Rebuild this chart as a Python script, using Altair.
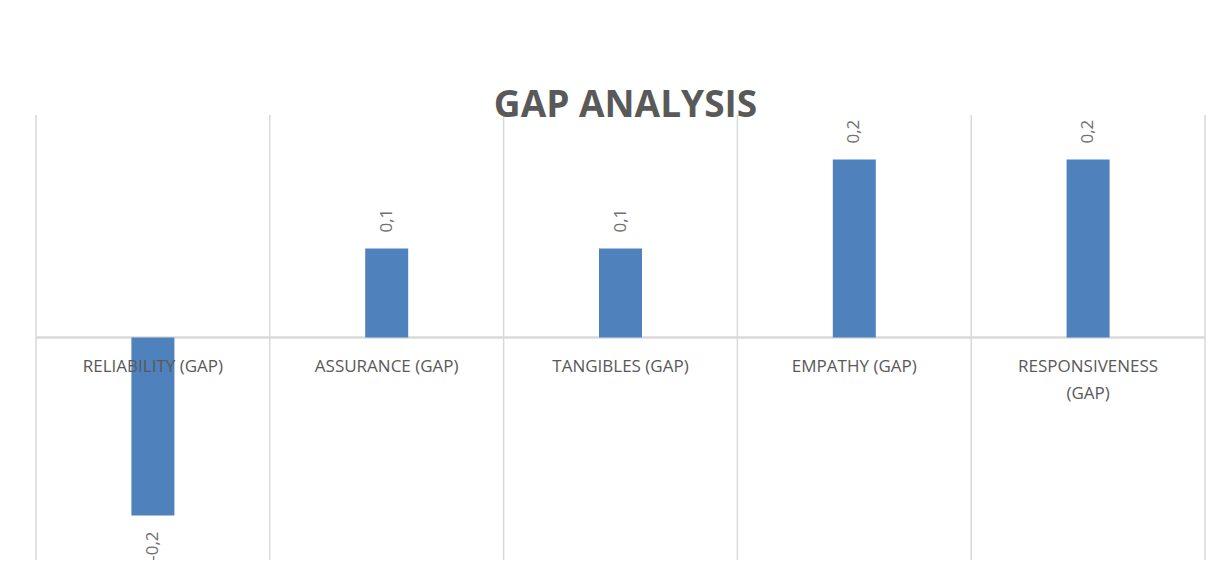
import altair as alt
import pandas as pd

categories = ["RELIABILITY (GAP)", "ASSURANCE (GAP)", "TANGIBLES (GAP)",
              "EMPATHY (GAP)", "RESPONSIVENESS (GAP)"]
values = [-0.2, 0.1, 0.1, 0.2, 0.2]
title_text = "GAP ANALYSIS"

df = pd.DataFrame({"category": categories, "value": values})

W, H = 1169, 445
GRID = "#D9D9D9"
TEXT = "#595959"
LABEL = "#707070"

x_scale = alt.Scale(domain=categories, paddingInner=0, paddingOuter=0)
x_enc = alt.X("category:N", scale=x_scale, axis=None)
y_scale = alt.Scale(domain=[-0.25, 0.25], nice=False)
y_enc = alt.Y("value:Q", scale=y_scale, axis=None)
zero_enc = alt.Y("zero:Q", scale=y_scale, axis=None)

base = alt.Chart(df)

grid = base.mark_rule(color=GRID, strokeWidth=1.5, xOffset=-W / 10).encode(x=x_enc)
grid_end = base.transform_filter(
    alt.datum.category == categories[-1]
).mark_rule(color=GRID, strokeWidth=1.5, xOffset=W / 10).encode(x=x_enc)

zero = base.transform_calculate(zero="0").mark_rule(
    color=GRID, strokeWidth=1.5
).encode(y=zero_enc)

bars = base.mark_bar(color="#4F81BD", size=43).encode(x=x_enc, y=y_enc)

cat_labels = base.transform_calculate(
    zero="0",
    lab="length(datum.category) > 18 ? replace(datum.category, ' (', '\\n(') : datum.category",
).mark_text(
    lineBreak="\n", font="Open Sans", fontSize=17, color=TEXT,
    baseline="alphabetic", align="center", dy=34, lineHeight=27,
).encode(x=x_enc, y=zero_enc, text="lab:N")

pos_labels = base.transform_filter("datum.value >= 0").transform_calculate(
    vl="replace(toString(datum.value), '.', ',')"
).mark_text(
    angle=270, align="left", baseline="middle", dx=16,
    font="Open Sans", fontSize=17, color=LABEL,
).encode(x=x_enc, y=y_enc, text="vl:N")

neg_labels = base.transform_filter("datum.value < 0").transform_calculate(
    vl="replace(toString(datum.value), '.', ',')"
).mark_text(
    angle=270, align="right", baseline="middle", dx=-16,
    font="Open Sans", fontSize=17, color=LABEL,
).encode(x=x_enc, y=y_enc, text="vl:N")

chart = alt.layer(grid, grid_end, zero, bars, cat_labels, pos_labels, neg_labels).properties(
    width=W, height=H,
    title=alt.Title(title_text, font="Open Sans", fontSize=37, fontWeight="bold",
                    color=TEXT, anchor="middle", dx=5, dy=15),
    autosize=alt.AutoSizeParams(type="none"),
    padding={"left": 28, "top": 107, "right": 16, "bottom": 8},
).configure_view(strokeWidth=0)

chart.save("out.html", embed_options={"renderer": "svg", "actions": False})
